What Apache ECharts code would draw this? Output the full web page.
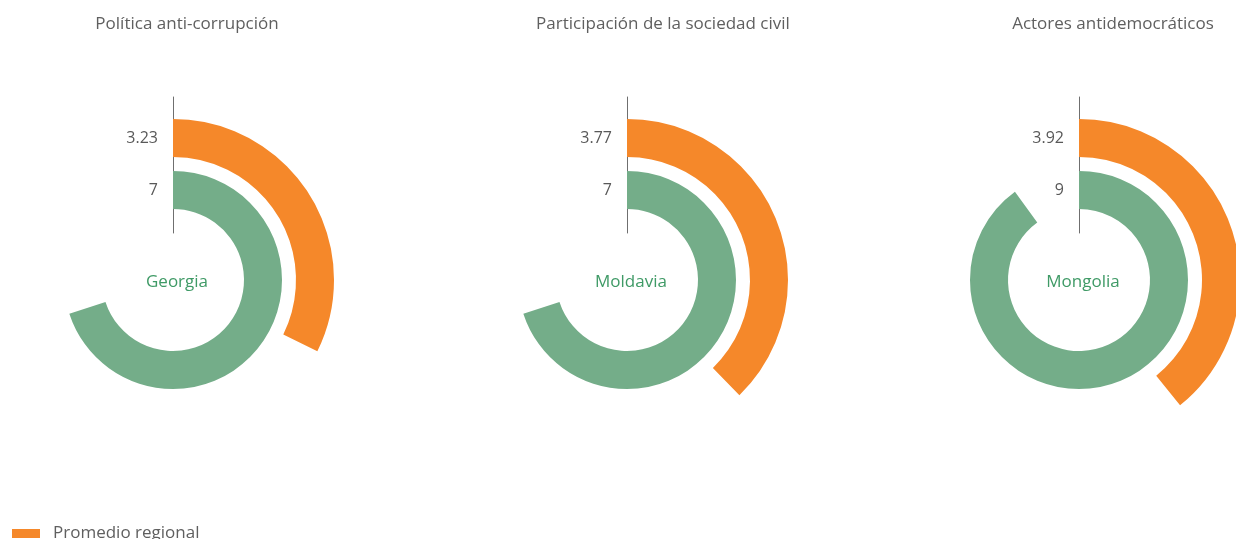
<!DOCTYPE html>
<html>
<head>
<meta charset="utf-8">
<script src="https://cdn.jsdelivr.net/npm/echarts@6/dist/echarts.min.js"></script>
<style>
  html, body { margin: 0; padding: 0; background: #fff; }
  #chart { width: 1236px; height: 539px; }
</style>
</head>
<body>
<div id="chart"></div>
<script>
var titulos = ["Política anti-corrupción", "Participación de la sociedad civil", "Actores antidemocráticos"];
var paises = ["Georgia", "Moldavia", "Mongolia"];
var valoresPais = [7, 7, 9];
var promedioRegional = [3.23, 3.77, 3.92];
var escalaMax = 10;

var naranja = "#F5882A";
var verde = "#74AD89";
var centrosX = [173, 627, 1079];
var centroY = 280;
var tituloX = [182, 658, 1108];

var chart = echarts.init(document.getElementById("chart"));

var polar = [], angleAxis = [], radiusAxis = [], series = [], title = [];

for (var i = 0; i < paises.length; i++) {
  // bars
  polar.push({ center: [centrosX[i], centroY], radius: [64, 168] });
  angleAxis.push({ polarIndex: 2 * i, type: "value", min: 0, max: escalaMax, startAngle: 90, clockwise: true, show: false });
  radiusAxis.push({
    polarIndex: 2 * i, type: "category", data: [paises[i], "Promedio regional"],
    axisLine: { show: false }, axisTick: { show: false }, axisLabel: { show: false }, splitLine: { show: false }
  });
  // the thin vertical line
  polar.push({ center: [centrosX[i], centroY], radius: [47, 183] });
  angleAxis.push({ polarIndex: 2 * i + 1, type: "value", min: 0, max: 1, startAngle: 90, show: false });
  radiusAxis.push({
    polarIndex: 2 * i + 1, type: "value", min: 0, max: 1,
    axisLine: { show: true, lineStyle: { color: "#6f6f6f", width: 1 } },
    axisTick: { show: false }, axisLabel: { show: false }, splitLine: { show: false }
  });

  series.push({
    name: paises[i], type: "bar", coordinateSystem: "polar", polarIndex: 2 * i,
    data: [
      { value: valoresPais[i], itemStyle: { color: verde } },
      { value: promedioRegional[i], itemStyle: { color: naranja } }
    ],
    barWidth: 38,
    label: {
      show: true, position: "start", distance: 15,
      color: "#595959", fontSize: 16, fontFamily: "Open Sans",
      formatter: function (p) { return p.value; }
    },
    silent: true
  });

  title.push({
    text: titulos[i], left: tituloX[i], top: 11, textAlign: "center",
    textStyle: { color: "#5f5f5f", fontSize: 17, fontWeight: "normal", fontFamily: "Open Sans" }
  });
  title.push({
    text: paises[i], left: centrosX[i] - 1, top: centroY - 11, textAlign: "center",
    textStyle: { color: "#3f9a66", fontSize: 17, fontWeight: "normal", fontFamily: "Open Sans" }
  });
}

// legend entry only (line series so the bar layout is untouched)
series.push({ name: "Promedio regional", type: "line", coordinateSystem: "polar", polarIndex: 0, data: [], itemStyle: { color: naranja } });

var option = {
  animation: false,
  title: title,
  polar: polar,
  angleAxis: angleAxis,
  radiusAxis: radiusAxis,
  legend: {
    data: ["Promedio regional"], left: 7, top: 520, orient: "vertical",
    itemWidth: 28, itemHeight: 9, itemGap: 10, icon: "rect",
    textStyle: { color: "#5f5f5f", fontSize: 17, fontFamily: "Open Sans", padding: [0, 0, 0, 8] }
  },
  series: series
};

chart.setOption(option);
</script>
</body>
</html>
